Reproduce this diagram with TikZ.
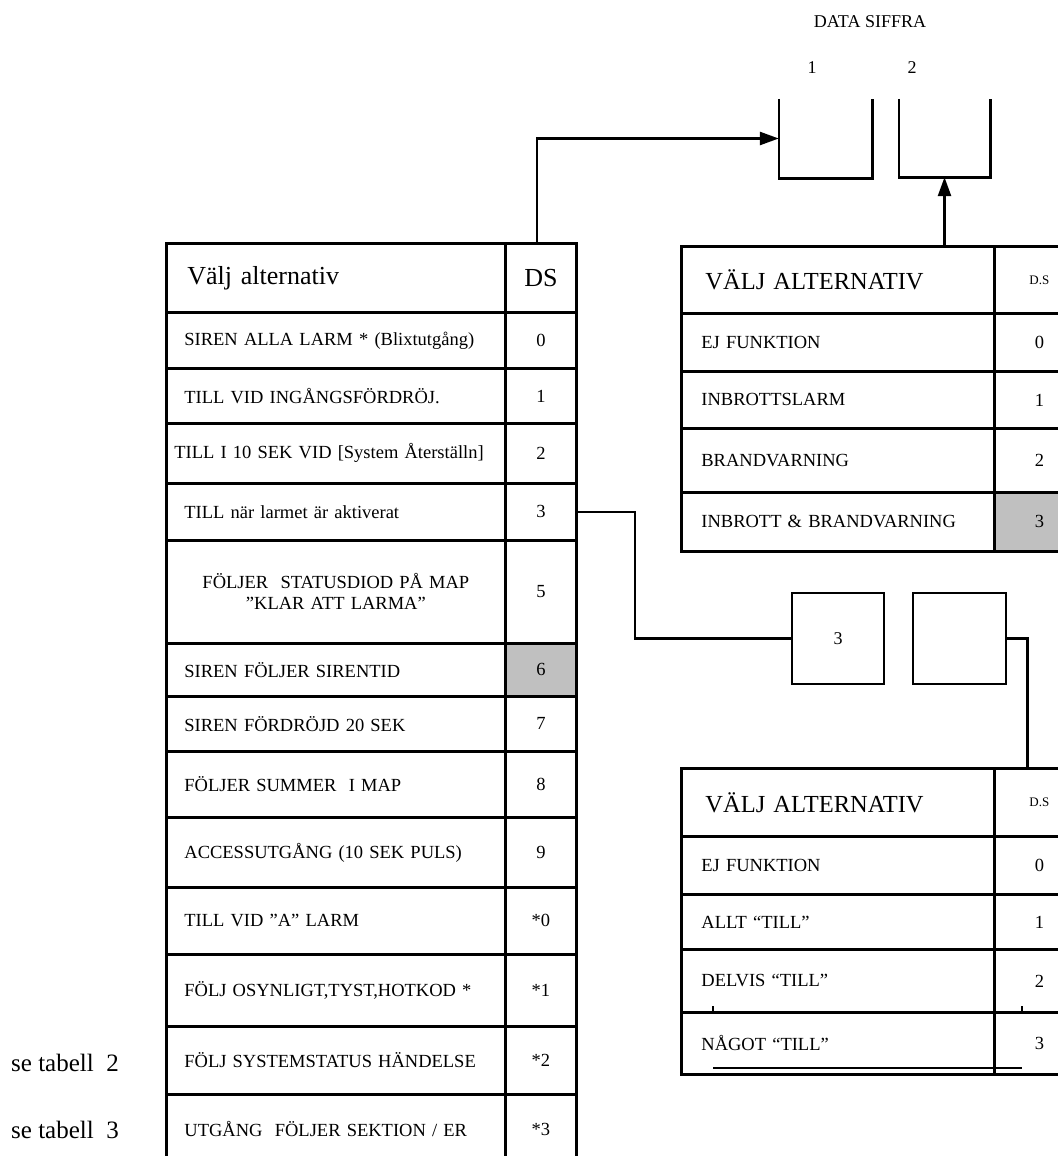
\documentclass[tikz,border=0pt]{standalone}
\usepackage{fontspec}
\setmainfont{Liberation Serif}
\usepackage{tikz}
\usetikzlibrary{arrows.meta,calc,positioning}
\definecolor{cellShade}{RGB}{192,192,192}

\begin{document}
\begin{tikzpicture}[
  x=1pt,y=-1pt,
  tabcell/.style={draw,line width=2.8pt,anchor=north west,inner sep=0pt,font=\fontsize{18.5}{21}\selectfont},
  altcell/.style={tabcell,text width=303pt,inner xsep=18pt,align=left},
  dscell/.style={tabcell,minimum width=71pt,align=center},
  ralt/.style={tabcell,text width=273pt,inner xsep=20pt,align=left},
  rds/.style={tabcell,minimum width=90pt,align=center},
  shaded/.style={fill=cellShade},
  bighead/.style={font=\fontsize{26}{28}\selectfont},
  rhead/.style={ralt,font=\fontsize{24.5}{27}\selectfont,inner xsep=24pt,text width=265pt},
  rdshead/.style={rds,font=\fontsize{13}{15}\selectfont},
  openbox/.style={minimum width=93pt,minimum height=79pt,inner sep=0pt},
  digitbox/.style={draw,line width=2.6pt,minimum width=92pt,minimum height=91pt,inner sep=0pt,font=\fontsize{18}{20}\selectfont},
  conn/.style={line width=2.6pt},
  arrow/.style={conn,-{Triangle[length=19pt,width=13pt]}},
  toplabel/.style={font=\fontsize{18}{20}\selectfont},
  note/.style={font=\fontsize{25}{27}\selectfont,anchor=west,inner sep=0pt}
]
\useasboundingbox (0,0) rectangle (1057,1156);

\node[toplabel] (siffra) at (870,22) {DATA SIFFRA};
\node[toplabel] (sifAnum) at (812,68) {1};
\node[toplabel] (sifBnum) at (912,68) {2};
\node[openbox] (sifA) at (825.5,138.5) {};
\node[openbox,minimum width=91pt,minimum height=78pt] (sifB) at (944.5,138) {};
\draw[conn] (sifA.north west) -- (sifA.south west) -- (sifA.south east) -- (sifA.north east);
\draw[conn] (sifB.north west) -- (sifB.south west) -- (sifB.south east) -- (sifB.north east);

\node[altcell,bighead,minimum height=69pt,inner xsep=21pt,text width=297pt] (lhead) at (165,242) {Välj alternativ};
\node[dscell,bighead,minimum height=69pt] (lheadds) at (504,242) {DS};
\node[altcell,minimum height=56pt] (r0) at (165,311) {SIREN ALLA LARM * (Blixtutgång)};
\node[dscell,minimum height=56pt] (r0ds) at (504,311) {0};
\node[altcell,minimum height=55pt] (r1) at (165,367) {TILL VID INGÅNGSFÖRDRÖJ.};
\node[dscell,minimum height=55pt] (r1ds) at (504,367) {1};
\node[altcell,minimum height=60pt,inner xsep=8pt,text width=323pt] (r2) at (165,422) {TILL I 10 SEK VID [System Återställn]};
\node[dscell,minimum height=60pt] (r2ds) at (504,422) {2};
\node[altcell,minimum height=57pt] (r3) at (165,482) {TILL när larmet är aktiverat};
\node[dscell,minimum height=57pt] (r3ds) at (504,482) {3};
\node[altcell,minimum height=103pt,align=center] (r4) at (165,539) {FÖLJER\ \ STATUSDIOD PÅ MAP\\”KLAR ATT LARMA”};
\node[dscell,minimum height=103pt] (r4ds) at (504,539) {5};
\node[altcell,minimum height=53pt] (r5) at (165,642) {SIREN FÖLJER SIRENTID};
\node[dscell,shaded,minimum height=53pt] (r5ds) at (504,642) {6};
\node[altcell,minimum height=55pt] (r6) at (165,695) {SIREN FÖRDRÖJD 20 SEK};
\node[dscell,minimum height=55pt] (r6ds) at (504,695) {7};
\node[altcell,minimum height=66pt] (r7) at (165,750) {FÖLJER SUMMER\ \ I MAP};
\node[dscell,minimum height=66pt] (r7ds) at (504,750) {8};
\node[altcell,minimum height=70pt] (r8) at (165,816) {ACCESSUTGÅNG (10 SEK PULS)};
\node[dscell,minimum height=70pt] (r8ds) at (504,816) {9};
\node[altcell,minimum height=67pt] (r9) at (165,886) {TILL VID ”A” LARM};
\node[dscell,minimum height=67pt] (r9ds) at (504,886) {*0};
\node[altcell,minimum height=72pt] (r10) at (165,953) {FÖLJ OSYNLIGT,TYST,HOTKOD *};
\node[dscell,minimum height=72pt] (r10ds) at (504,953) {*1};
\node[altcell,minimum height=68pt] (r11) at (165,1025) {FÖLJ SYSTEMSTATUS HÄNDELSE};
\node[dscell,minimum height=68pt] (r11ds) at (504,1025) {*2};
\node[altcell,minimum height=70pt] (r12) at (165,1093) {UTGÅNG\ \ FÖLJER SEKTION / ER};
\node[dscell,minimum height=70pt] (r12ds) at (504,1093) {*3};

\node[note] (tab2note) at (11,1063) {se tabell\ \ 2};
\node[note] (tab3note) at (11,1130) {se tabell\ \ 3};

\node[rhead,minimum height=67pt] (uhead) at (680,245) {VÄLJ ALTERNATIV};
\node[rdshead,minimum height=67pt] (uheadds) at (993,245) {D.S};
\node[ralt,minimum height=58pt] (u0) at (680,312) {EJ FUNKTION};
\node[rds,minimum height=58pt] (u0ds) at (993,312) {0};
\node[ralt,minimum height=57pt] (u1) at (680,370) {INBROTTSLARM};
\node[rds,minimum height=57pt] (u1ds) at (993,370) {1};
\node[ralt,minimum height=64pt] (u2) at (680,427) {BRANDVARNING};
\node[rds,minimum height=64pt] (u2ds) at (993,427) {2};
\node[ralt,minimum height=59pt] (u3) at (680,491) {INBROTT \& BRANDVARNING};
\node[rds,shaded,minimum height=59pt] (u3ds) at (993,491) {3};

\node[digitbox] (selA) at (838,638.5) {3};
\node[digitbox,minimum width=93pt] (selB) at (959.5,638.5) {};

\node[rhead,minimum height=68pt] (bhead) at (680,767) {VÄLJ ALTERNATIV};
\node[rdshead,minimum height=68pt] (bheadds) at (993,767) {D.S};
\node[ralt,minimum height=58pt] (b0) at (680,835) {EJ FUNKTION};
\node[rds,minimum height=58pt] (b0ds) at (993,835) {0};
\node[ralt,minimum height=55pt] (b1) at (680,893) {ALLT “TILL”};
\node[rds,minimum height=55pt] (b1ds) at (993,893) {1};
\node[ralt,minimum height=63pt] (b2) at (680,948) {DELVIS “TILL”};
\node[rds,minimum height=63pt] (b2ds) at (993,948) {2};
\node[ralt,minimum height=62pt] (b3) at (680,1011) {NÅGOT “TILL”};
\node[rds,minimum height=62pt] (b3ds) at (993,1011) {3};
\draw[conn] (713,1068) -- (1022,1068);
\draw[conn] (713,1006) -- (713,1012);
\draw[conn] (1022,1006) -- (1022,1012);

\draw[arrow] (lheadds.north) ++(-4,0) |- (sifA.west);
\draw[arrow] (sifB.south |- uhead.north) -- (sifB.south);
\draw[conn] (r3ds.east) -- ++(57,0) |- (selA.west);
\draw[conn] (selB.east) -- ++(20,0) coordinate (selBturn) -- (selBturn |- bhead.north);

\end{tikzpicture}
\end{document}
